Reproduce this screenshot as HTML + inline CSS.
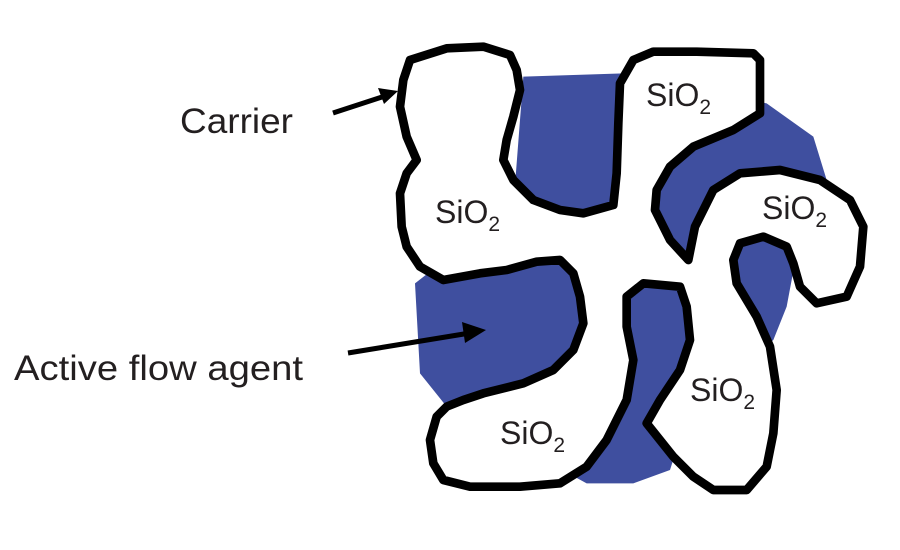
<!DOCTYPE html>
<html><head><meta charset="utf-8"><style>
html,body{margin:0;padding:0;background:#fff;}
svg{display:block}
text{font-family:"Liberation Sans",sans-serif;fill:#231f20}
</style></head><body>
<svg width="900" height="550" viewBox="0 0 900 550" xmlns="http://www.w3.org/2000/svg">
<g transform="translate(380,40) scale(0.33333)">
<path fill="#3f4f9f" d="M430,110 L730,100 L1160,190 L1300,290 L1340,420 L1250,640 L1220,800 L1180,900 L930,1100 L870,1290 L760,1330 L620,1330 L200,1100 L120,1000 L105,730 L400,500 Z"/>
<path fill="#fff" stroke="#000" stroke-width="26" stroke-linejoin="round" d="M90,60 L200,25 L310,20 L390,45 L410,90 L420,150 L400,230 L380,300 L370,360 L400,420 L460,480 L540,510 L610,520 L700,495 L710,400 L715,250 L720,130 L760,60 L820,35 L950,35 L1120,40 L1140,60 L1140,150 L1140,220 L1060,270 L940,320 L870,380 L830,450 L825,510 L870,600 L925,660 L945,560 L1000,450 L1080,400 L1200,390 L1320,420 L1410,480 L1450,560 L1440,680 L1400,770 L1310,790 L1260,740 L1240,670 L1220,620 L1150,590 L1080,610 L1060,660 L1070,730 L1130,830 L1170,920 L1190,1050 L1180,1180 L1160,1280 L1100,1350 L1000,1350 L940,1310 L880,1250 L800,1150 L840,1080 L900,990 L930,900 L920,800 L900,740 L790,730 L740,770 L740,860 L760,960 L740,1080 L680,1200 L620,1280 L540,1330 L420,1340 L270,1340 L190,1320 L160,1270 L150,1200 L170,1130 L200,1100 L250,1080 L310,1060 L430,1030 L520,990 L580,930 L610,850 L600,770 L580,700 L540,660 L470,665 L380,690 L300,700 L190,720 L120,680 L80,620 L65,560 L60,460 L80,400 L110,360 L80,290 L60,200 L70,120 Z"/>
</g>
<line x1="333" y1="113" x2="385" y2="96" stroke="#000" stroke-width="5"/>
<polygon points="398,91 378,88 384,104" fill="#000"/>
<line x1="348" y1="353" x2="470" y2="333" stroke="#000" stroke-width="5"/>
<polygon points="486,330 462,322 465,343" fill="#000"/>
<text x="180" y="133" font-size="35" textLength="113" lengthAdjust="spacingAndGlyphs">Carrier</text>
<text x="14" y="380" font-size="35" textLength="289" lengthAdjust="spacingAndGlyphs">Active flow agent</text>
<g font-size="32">
<text x="435" y="223">SiO<tspan font-size="21" dy="8">2</tspan></text>
<text x="646" y="106">SiO<tspan font-size="21" dy="8">2</tspan></text>
<text x="762" y="219">SiO<tspan font-size="21" dy="8">2</tspan></text>
<text x="690" y="401">SiO<tspan font-size="21" dy="8">2</tspan></text>
<text x="500" y="444">SiO<tspan font-size="21" dy="8">2</tspan></text>
</g>
</svg>
</body></html>
